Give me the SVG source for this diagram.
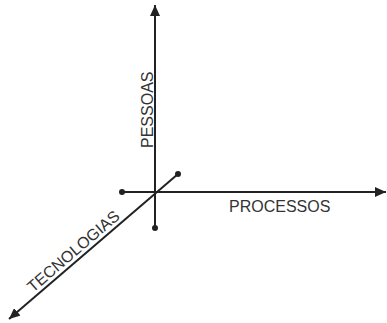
<svg xmlns="http://www.w3.org/2000/svg" width="387" height="323" viewBox="0 0 387 323">
<style>
.axis{stroke:#222;stroke-width:2;fill:none}
.dot{fill:#222}
.lbl{font-family:"Liberation Sans",Arial,sans-serif;font-size:16px;fill:#333}
</style>
<defs>
<marker id="arr" markerUnits="userSpaceOnUse" markerWidth="12" markerHeight="10" refX="11" refY="5" orient="auto">
<path d="M0,0 L11,5 L0,10 Z" fill="#222"/>
</marker>
</defs>
<rect width="387" height="323" fill="#fff"/>
<g id="connectors">
<line class="axis" x1="155" y1="228" x2="155" y2="5" marker-end="url(#arr)"/>
<line class="axis" x1="122" y1="192" x2="386" y2="192" marker-end="url(#arr)"/>
<line class="axis" x1="178" y1="174" x2="9" y2="319" marker-end="url(#arr)"/>
<circle class="dot" cx="155" cy="228" r="3"/>
<circle class="dot" cx="122" cy="192" r="3"/>
<circle class="dot" cx="178" cy="174" r="3"/>
</g>
<g id="pessoas">
<text class="lbl" transform="translate(153,148) rotate(-90)">PESSOAS</text>
</g>
<g id="processos">
<text class="lbl" x="229" y="212">PROCESSOS</text>
</g>
<g id="tecnologias">
<text class="lbl" transform="translate(33,293) rotate(-40.6)">TECNOLOGIAS</text>
</g>
</svg>
